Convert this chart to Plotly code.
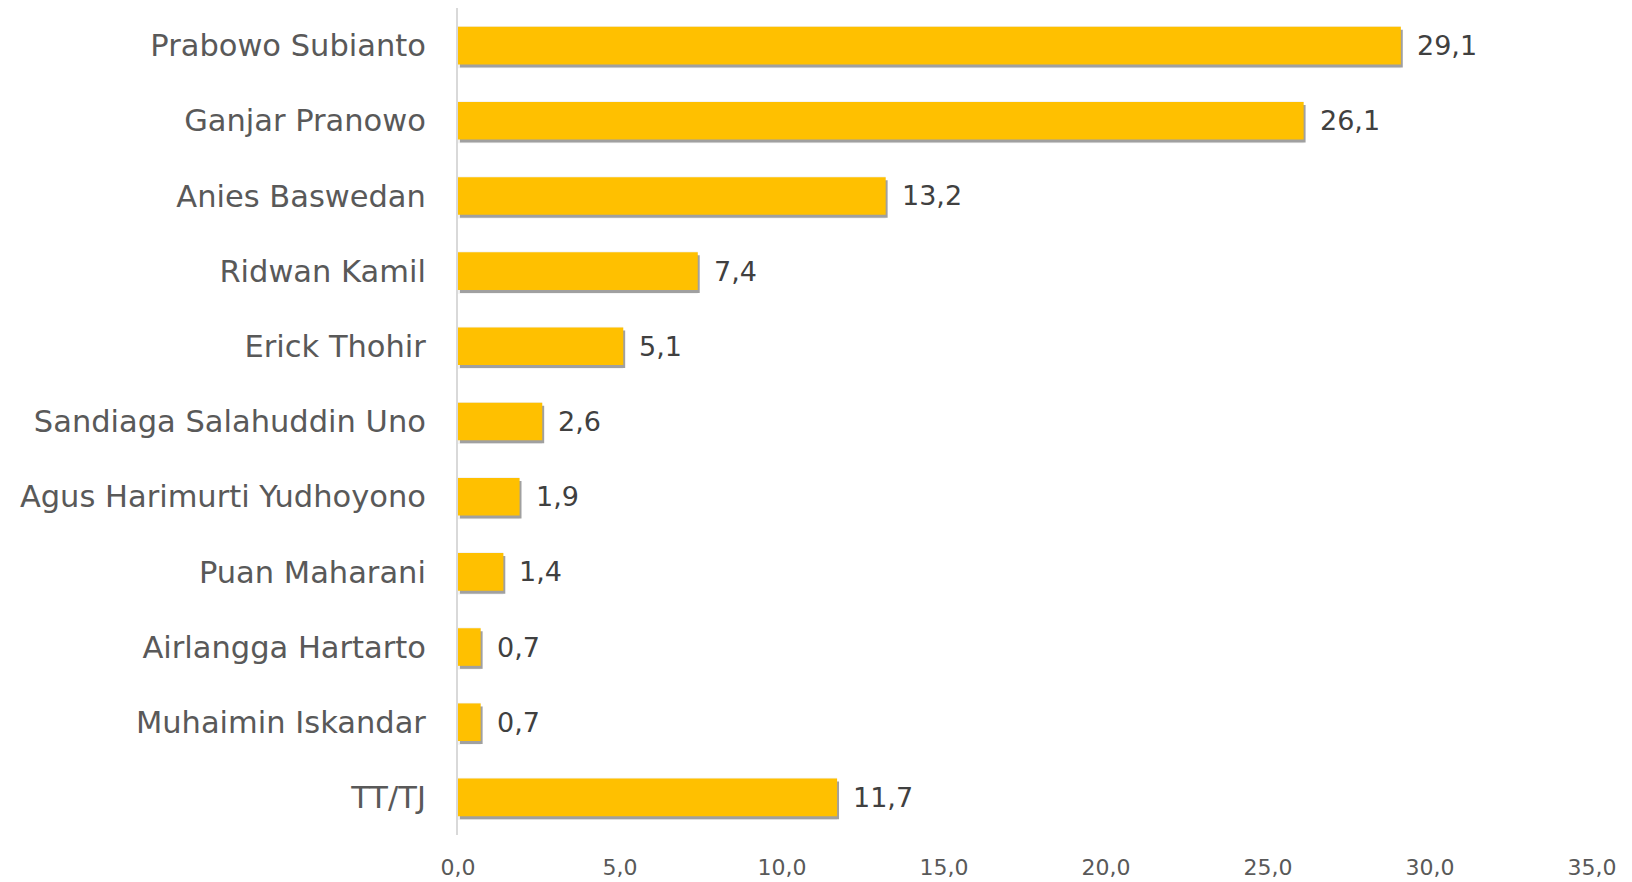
import plotly.graph_objects as go

categories = ["Prabowo Subianto", "Ganjar Pranowo", "Anies Baswedan", "Ridwan Kamil",
              "Erick Thohir", "Sandiaga Salahuddin Uno", "Agus Harimurti Yudhoyono",
              "Puan Maharani", "Airlangga Hartarto", "Muhaimin Iskandar", "TT/TJ"]
values = [29.1, 26.1, 13.2, 7.4, 5.1, 2.6, 1.9, 1.4, 0.7, 0.7, 11.7]
tick_vals = [0, 5, 10, 15, 20, 25, 30, 35]

FONT = "DejaVu Sans"
BAR = "#FFC000"

fig = go.Figure()
# soft halo shadow
fig.add_trace(go.Bar(y=categories, x=values, orientation="h", base=0.0,
                     width=0.56, offset=-0.26, marker=dict(color="#f2f2f2", line=dict(width=0)),
                     hoverinfo="skip", showlegend=False))
# darker drop shadow
fig.add_trace(go.Bar(y=categories, x=values, orientation="h", base=0.06,
                     width=0.5, offset=-0.21, marker=dict(color="#a0a0a0", line=dict(width=0)),
                     hoverinfo="skip", showlegend=False))
# main bars
fig.add_trace(go.Bar(y=categories, x=values, orientation="h",
                     width=0.5, offset=-0.25, marker=dict(color=BAR, line=dict(width=0)),
                     showlegend=False))

for c, v in zip(categories, values):
    fig.add_annotation(x=v, y=c, text=f"{v:.1f}".replace(".", ","), showarrow=False,
                       xanchor="left", yanchor="middle", xshift=14,
                       font=dict(family=FONT, size=27, color="#404040"))

fig.update_layout(
    width=1624, height=874,
    margin=dict(l=450, r=40, t=0, b=47),
    plot_bgcolor="white", paper_bgcolor="white",
    barmode="overlay", bargap=0.5,
    separators=",.",
    font=dict(family=FONT),
    xaxis=dict(range=[0, 35], tickvals=tick_vals, tickformat=".1f", showgrid=False,
               zeroline=False, showline=False, ticks="", automargin=False,
               tickfont=dict(family=FONT, size=22, color="#595959"),
               ticklabelstandoff=17),
    yaxis=dict(autorange="reversed", showgrid=False, zeroline=False, showline=True,
               linecolor="#d9d9d9", linewidth=2, ticks="", automargin=False,
               tickfont=dict(family=FONT, size=30.5, color="#595959"),
               ticklabelstandoff=24),
)

fig.write_html("out.html")
